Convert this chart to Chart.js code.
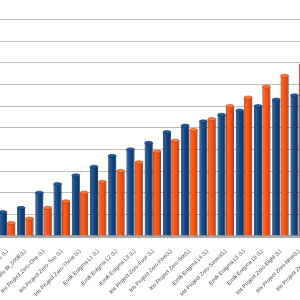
<!DOCTYPE html>
<html>
<head>
<meta charset="utf-8">
<script src="https://cdn.jsdelivr.net/npm/chart.js@4/dist/chart.umd.min.js"></script>
<style>
  html, body { margin: 0; padding: 0; background: #fff; overflow: hidden; width: 300px; height: 300px; }
  #wrap { position: relative; width: 300px; height: 300px; overflow: hidden; }
  #chart { position: absolute; left: -2px; top: -2px; }
</style>
</head>
<body>
<div id="wrap"><canvas id="chart" width="328" height="302"></canvas></div>
<script>
"use strict";

// categories (first and last are cut off by the frame)
const labels = [
  "Iris Bi_300E (L)", "Iris Bi_500E(L)", "Iris Project Zero-One (L)", "Iris Project Zero-Two (L)",
  "Iris Project Zero-Three (L)", "Emik Enigma L1 (L)", "Emik Enigma L2 (L)", "Emik Enigma L3 (L)",
  "Iris Project Zero-Four (L)", "Iris Project Zero-Five(L)", "Iris Project Zero-Six(L)", "Emik Enigma L4 (L)",
  "Iris Project Zero-Seven(L)", "Emik Enigma L5 (L)", "Emik Enigma L6 (L)", "Iris Project Zero-Eight (L)",
  "Iris Project Zero-Nine(L)", "Iris Project Zero-Ten(L)"
];

const blueVals   = [11, 13, 20, 24, 28, 32, 37, 40, 43, 48, 51, 53, 56, 58, 60, 63, 65, 68];
const orangeVals = [6, 8, 13, 16, 20, 25, 30, 34, 39, 44, 49, 54, 60, 64, 69, 74, 79, 84];

const C = {
  blue: "#0f4585", blueEdge: "#0a2f5e", blueHi: "#1d5aa0",
  orange: "#ff4f0a", orangeEdge: "#b93400", orangeHi: "#ff7a3d",
  grid: "#bdbdbd", floor: "#a9a9a9"
};

// cheap cylinder look: side shading + top cap, placed from the bar elements
const cylinder = {
  id: "cylinder",
  afterDatasetsDraw(chart) {
    const ctx = chart.ctx;
    chart.data.datasets.forEach((ds, i) => {
      const meta = chart.getDatasetMeta(i);
      meta.data.forEach(bar => {
        const { x, y, base, width } = bar.getProps(["x", "y", "base", "width"], true);
        const l = x - width / 2, r = x + width / 2;
        const g = ctx.createLinearGradient(l, 0, r, 0);
        g.addColorStop(0, "rgba(0,0,0,0.25)");
        g.addColorStop(0.3, "rgba(255,255,255,0.12)");
        g.addColorStop(0.6, "rgba(0,0,0,0)");
        g.addColorStop(1, "rgba(0,0,0,0.3)");
        ctx.save();
        ctx.fillStyle = g;
        ctx.fillRect(l, y, width, base - y);
        ctx.beginPath();
        ctx.ellipse(x, y, width / 2, 1.6, 0, 0, Math.PI * 2);
        ctx.fillStyle = ds.capColor;
        ctx.fill();
        ctx.strokeStyle = ds.borderColor;
        ctx.lineWidth = 0.6;
        ctx.stroke();
        ctx.restore();
      });
    });
  }
};

new Chart(document.getElementById("chart"), {
  type: "bar",
  data: {
    labels: labels,
    datasets: [
      { data: blueVals, backgroundColor: C.blue, borderColor: C.blueEdge, borderWidth: 0.8, capColor: C.blueHi },
      { data: orangeVals, backgroundColor: C.orange, borderColor: C.orangeEdge, borderWidth: 0.8, capColor: C.orangeHi }
    ]
  },
  options: {
    responsive: false,
    animation: false,
    layout: { padding: 0 },
    categoryPercentage: 0.92,
    barPercentage: 0.95,
    plugins: { legend: { display: false }, tooltip: { enabled: false } },
    scales: {
      x: {
        grid: { display: false },
        border: { display: true, color: C.floor, width: 3 },
        ticks: {
          autoSkip: false, minRotation: 45, maxRotation: 45, padding: 4,
          color: "#444", font: { family: "'Liberation Sans', Arial, sans-serif", size: 5.5 }
        },
        afterFit: s => { s.height = 64; s.paddingLeft = 0; s.paddingRight = 0; }
      },
      y: {
        min: 0, max: 110,
        ticks: { display: false, stepSize: 10 },
        grid: { color: C.grid, lineWidth: 1, drawTicks: false },
        border: { display: false },
        afterFit: s => { s.width = 0; }
      }
    }
  },
  plugins: [cylinder]
});
</script>
</body>
</html>
